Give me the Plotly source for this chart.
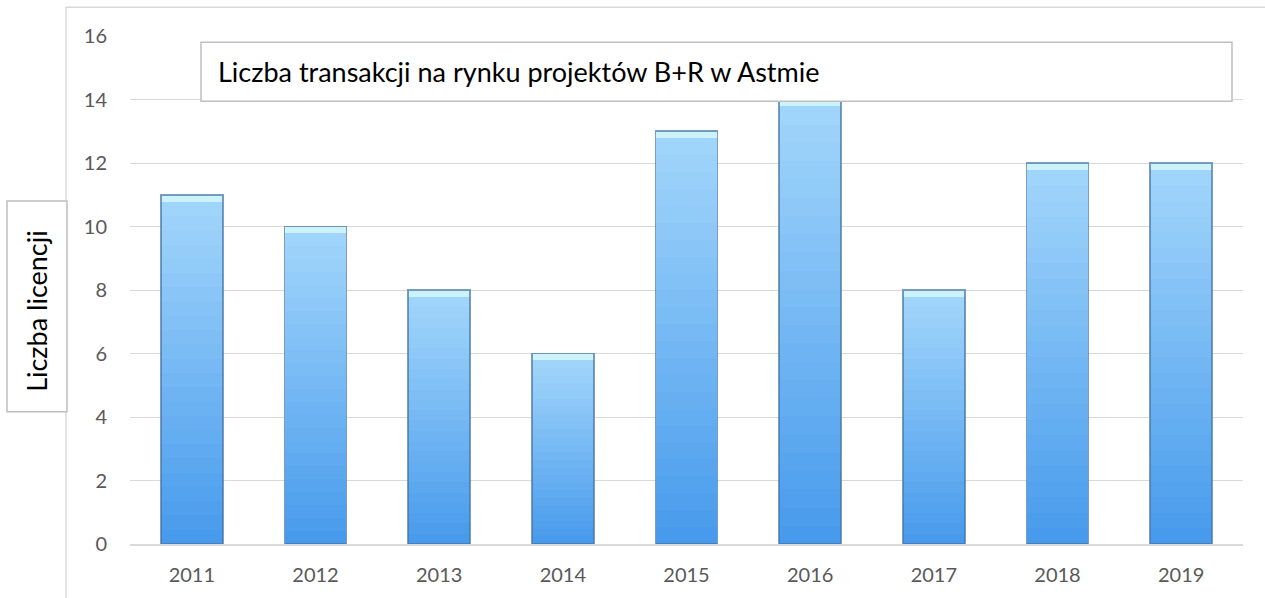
import plotly.graph_objects as go

# Number of licensing deals per year
years = ["2011", "2012", "2013", "2014", "2015", "2016", "2017", "2018", "2019"]
deals = [11, 10, 8, 6, 13, 14, 8, 12, 12]

y_ticks = [0, 2, 4, 6, 8, 10, 12, 14, 16]

title_text = "Liczba transakcji na rynku projektów B+R w Astmie"
y_title_text = "Liczba licencji"

FONT = "Lato"
N_STEPS = 24          # gradient bands per bar
BEVEL = 0.22          # height of the light cap at the top of each bar
BOTTOM_RGB = (72, 155, 236)
TOP_RGB = (160, 213, 251)
CAP_COLOR = "rgb(204,242,252)"


def lerp(a, b, t):
    return tuple(round(a[i] + (b[i] - a[i]) * t) for i in range(3))


fig = go.Figure()

# Body of each bar built as stacked bands to give a vertical gradient
for k in range(N_STEPS):
    t = k / (N_STEPS - 1)
    r, g, b = lerp(BOTTOM_RGB, TOP_RGB, t)
    fig.add_trace(go.Bar(
        x=years,
        y=[(v - BEVEL) / N_STEPS for v in deals],
        marker=dict(color=f"rgb({r},{g},{b})", line=dict(width=0)),
        hoverinfo="skip",
        showlegend=False,
    ))

# Light cap on top of each bar
fig.add_trace(go.Bar(
    x=years,
    y=[BEVEL for _ in deals],
    marker=dict(color=CAP_COLOR, line=dict(width=0)),
    customdata=deals,
    hovertemplate="%{x}: %{customdata}<extra></extra>",
    showlegend=False,
))

# Darker edge around the whole bar
fig.add_trace(go.Bar(
    x=years,
    y=deals,
    base=[0] * len(deals),
    marker=dict(color="rgba(0,0,0,0)", line=dict(color="rgba(70,115,165,0.7)", width=1.6)),
    hoverinfo="skip",
    showlegend=False,
))

fig.update_layout(
    width=1265,
    height=598,
    margin=dict(l=130, r=22, t=36, b=54),
    barmode="stack",
    bargap=0.5,
    plot_bgcolor="white",
    paper_bgcolor="white",
    font=dict(family=FONT, size=20, color="#595959"),
    xaxis=dict(
        type="category",
        showgrid=False,
        showline=True,
        linecolor="#d9d9d9",
        linewidth=2,
        ticks="",
        ticklabelstandoff=12,
        tickfont=dict(size=20, color="#595959"),
        zeroline=False,
    ),
    yaxis=dict(
        range=[0, 16],
        tickvals=y_ticks,
        showgrid=True,
        gridcolor="#d9d9d9",
        gridwidth=1,
        zeroline=False,
        showline=False,
        ticks="",
        ticklabelstandoff=22,
        tickfont=dict(size=20, color="#595959"),
    ),
    barcornerradius=0,
)

# Outer frame of the chart area
fig.add_shape(type="rect", xref="paper", yref="paper",
              x0=(66 - 130) / 1113, x1=1.03, y0=-0.12, y1=(544.5 - 7) / 508.8,
              line=dict(color="#d9d9d9", width=1.5), fillcolor="rgba(0,0,0,0)",
              layer="below")

# Title box
fig.add_shape(type="rect", xref="paper", yref="paper",
              x0=(201 - 130) / 1113, x1=(1232 - 130) / 1113,
              y0=(544.5 - 101) / 508.8, y1=(544.5 - 42) / 508.8,
              line=dict(color="#bfbfbf", width=1.5), fillcolor="white",
              layer="above")
fig.add_annotation(text=title_text, xref="paper", yref="paper",
                   x=(216 - 130) / 1113, y=(544.5 - 71.5) / 508.8,
                   xanchor="left", yanchor="middle", showarrow=False,
                   font=dict(family=FONT, size=27, color="black"))

# Y-axis title box
fig.add_shape(type="rect", xref="paper", yref="paper",
              x0=(7 - 130) / 1113, x1=(67 - 130) / 1113,
              y0=(544.5 - 412) / 508.8, y1=(544.5 - 201) / 508.8,
              line=dict(color="#bfbfbf", width=1.5), fillcolor="white",
              layer="above")
fig.add_annotation(text=y_title_text, xref="paper", yref="paper",
                   x=(37 - 130) / 1113, y=(544.5 - 311) / 508.8,
                   xanchor="center", yanchor="middle", showarrow=False,
                   textangle=-90,
                   font=dict(family=FONT, size=27, color="black"))

fig.write_html("out.html")
